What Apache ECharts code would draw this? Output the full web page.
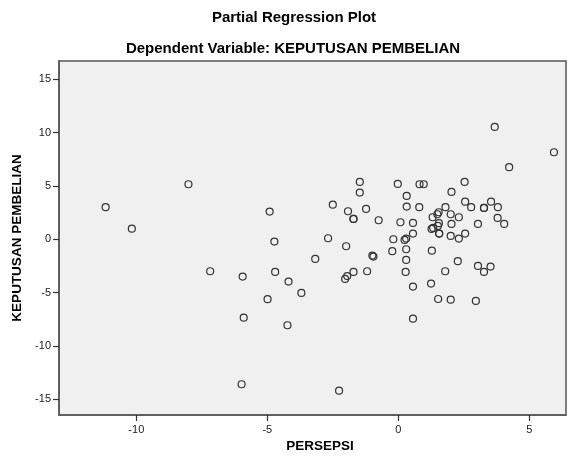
<!DOCTYPE html>
<html>
<head>
<meta charset="utf-8">
<script src="https://cdn.jsdelivr.net/npm/echarts@6/dist/echarts.min.js"></script>
<style>
html,body{margin:0;padding:0;background:#fff;}
#chart{width:571px;height:457px;}
</style>
</head>
<body>
<div id="chart"></div>
<script>
// Data (PERSEPSI residual, KEPUTUSAN PEMBELIAN residual)
var persepsi = [
  -8.01, -11.17, -10.17, -4.91, -4.73, -3.17, -7.18, -5.94, -4.70, -4.19,
  -3.70, -4.99, -5.90, -4.23, -5.98,
  3.68, 5.94, 4.23, -1.47, -1.47, -0.02, 0.81, 0.97, 2.53, 2.03,
  -2.50, 0.32, -1.92, -1.23, -1.71, -1.71, -0.75, 0.32, 0.80, 2.55,
  2.78, 3.27, 3.27, 3.54, 3.80, 3.79, 4.04, 3.04, 1.80,
  1.54, 1.49, 1.31, 2.00, 2.31, 2.03, 1.55, 1.51, 1.33, 1.27,
  1.56, 1.56, 2.00, 2.31, 2.55, 0.56, 0.08, 0.56, 0.30, 0.24,
  -0.19, -0.23, 0.30, 1.28, 0.30, -0.99, -0.95, -1.99, -2.68,
  -1.71, -1.19, 0.28, -2.03, -1.95, 1.79, 2.27, 3.04, 3.27, 3.52,
  0.56, 1.25, 1.52, 2.00, 2.96, 0.56, -2.26
];
var keputusan = [
  5.15, 3.00, 0.99, 2.59, -0.22, -1.85, -3.00, -3.50, -3.06, -3.97,
  -5.03, -5.62, -7.35, -8.06, -13.59,
  10.52, 8.15, 6.75, 5.37, 4.37, 5.18, 5.15, 5.15, 5.37, 4.43,
  3.24, 4.06, 2.62, 2.84, 1.90, 1.90, 1.78, 3.06, 3.00, 3.52,
  3.00, 2.93, 2.93, 3.52, 3.00, 2.00, 1.43, 1.43, 3.00,
  2.53, 2.34, 2.06, 2.34, 2.06, 1.43, 1.50, 1.25, 1.06, 0.97,
  0.53, 0.53, 0.31, 0.06, 0.53, 1.53, 1.59, 0.53, 0.06, -0.07,
  0.00, -1.12, -0.94, -1.07, -1.94, -1.53, -1.63, -0.66, 0.09,
  -3.06, -3.00, -3.06, -3.72, -3.45, -3.00, -2.06, -2.50, -3.06, -2.56,
  -4.44, -4.16, -5.60, -5.66, -5.78, -7.44, -14.19
];
var xTicks = [-10, -5, 0, 5];
var yTicks = [-15, -10, -5, 0, 5, 10, 15];

var titleText = 'Partial Regression Plot';
var subtitleText = 'Dependent Variable: KEPUTUSAN PEMBELIAN';
var xName = 'PERSEPSI';
var yName = 'KEPUTUSAN PEMBELIAN';

var points = persepsi.map(function (x, i) { return [x, keputusan[i]]; });

var FONT = 'Liberation Sans, Arial, sans-serif';
var chart = echarts.init(document.getElementById('chart'), null, {renderer: 'canvas'});
chart.setOption({
  animation: false,
  backgroundColor: '#ffffff',
  grid: {
    left: 59, top: 61, right: 5, bottom: 42,
    show: true,
    backgroundColor: '#f0f0f0',
    borderColor: '#555555',
    borderWidth: 1.5
  },
  graphic: [
    {type: 'text', x: 294, y: 18, style: {text: titleText, font: 'bold 15px ' + FONT, fill: '#000', textAlign: 'center', textVerticalAlign: 'middle'}},
    {type: 'text', x: 293, y: 49, style: {text: subtitleText, font: 'bold 15px ' + FONT, fill: '#000', textAlign: 'center', textVerticalAlign: 'middle'}},
    {type: 'text', x: 320, y: 446, style: {text: xName, font: 'bold 13.5px ' + FONT, fill: '#000', textAlign: 'center', textVerticalAlign: 'middle'}}
  ],
  xAxis: {
    type: 'value',
    min: -12.95, max: 6.4,
    splitLine: {show: false},
    axisLine: {show: true, onZero: false, lineStyle: {color: '#555555', width: 1.5}},
    axisTick: {show: true, inside: false, length: 6, customValues: xTicks, lineStyle: {color: '#333', width: 1.2}},
    axisLabel: {customValues: xTicks, color: '#222', fontSize: 11, fontFamily: FONT, margin: 9}
  },
  yAxis: {
    type: 'value',
    min: -16.47, max: 16.7,
    name: yName,
    nameLocation: 'middle',
    nameRotate: 90,
    nameGap: 28,
    nameTextStyle: {fontWeight: 'bold', fontSize: 13.5, fontFamily: FONT, color: '#000'},
    splitLine: {show: false},
    axisLine: {show: true, onZero: false, lineStyle: {color: '#555555', width: 1.5}},
    axisTick: {show: true, inside: false, length: 6, customValues: yTicks, lineStyle: {color: '#333', width: 1.2}},
    axisLabel: {customValues: yTicks, color: '#222', fontSize: 11, fontFamily: FONT, margin: 8}
  },
  series: [{
    type: 'scatter',
    data: points,
    symbol: 'circle',
    symbolSize: 7,
    itemStyle: {color: 'rgba(0,0,0,0)', borderColor: '#333333', borderWidth: 1.2, opacity: 1},
    emphasis: {disabled: true}
  }]
});
</script>
</body>
</html>
